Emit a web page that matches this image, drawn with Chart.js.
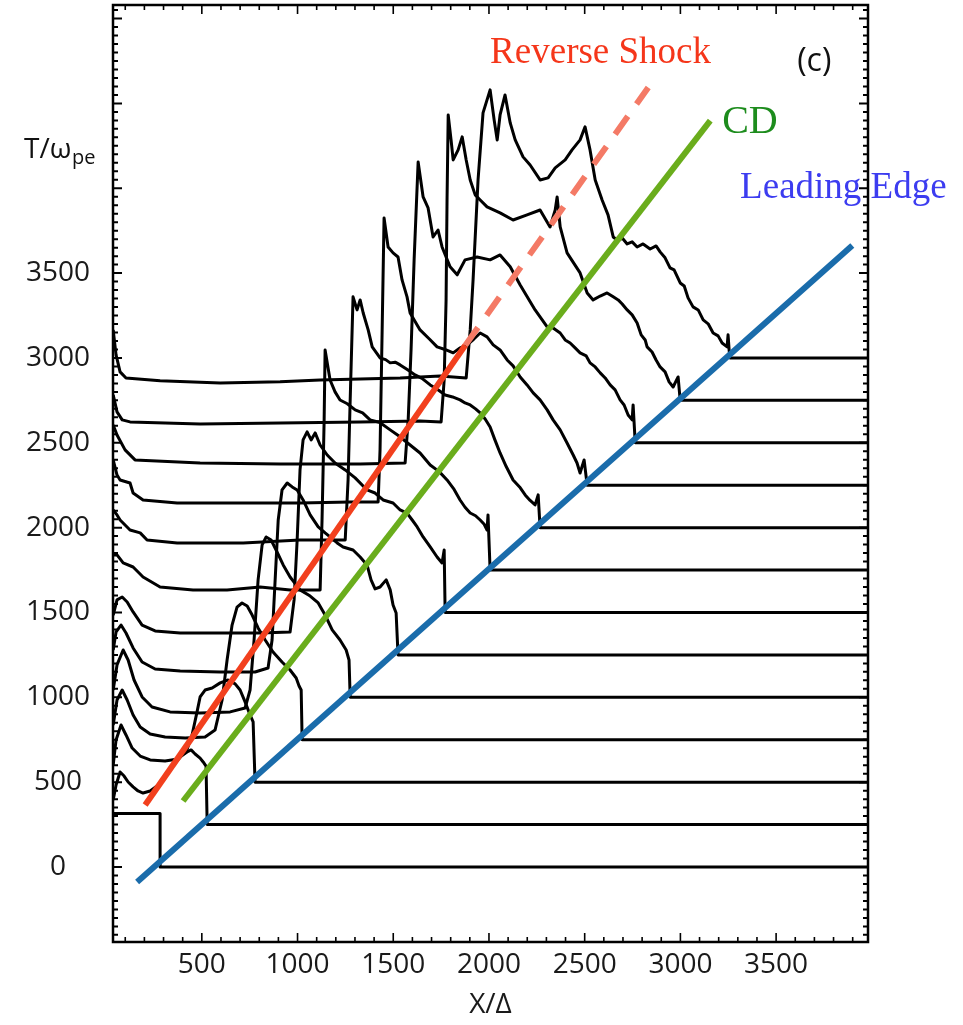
<!DOCTYPE html>
<html>
<head>
<meta charset="utf-8">
<script src="https://cdn.jsdelivr.net/npm/chart.js@4.4.1/dist/chart.umd.min.js"></script>
<style>
  body { margin: 0; background: #fff; }
  #wrap { width: 963px; height: 1025px; }
</style>
</head>
<body>
<div id="wrap"><canvas id="c" width="963" height="1025"></canvas></div>
<script>
// temps des profils (T/wpe)
const times = [0, 250, 500, 750, 1000, 1250, 1500, 1750, 2000, 2250, 2500, 2750, 3000];
const xTicks = [500, 1000, 1500, 2000, 2500, 3000, 3500];
const yTicks = [0, 500, 1000, 1500, 2000, 2500, 3000, 3500];

// profils : [X, T + densite]
const tr0 = [[37,315],[282,315],[282,0],[3980,0]];
const tr250 = [[37,395],[52,483],[73,560],[94,536],[115,501],[141,472],[167,448],[193,436],[230,448],[266,477],[298,519],[334,572],[366,619],[392,654],[423,678],[444,690],[465,666],[491,642],[507,619],[522,595],[528,250],[3980,250]];
const tr500 = [[37,601],[52,749],[78,837],[104,778],[136,701],[178,654],[230,631],[308,625],[376,637],[418,678],[449,778],[475,914],[491,1002],[517,1043],[554,1055],[596,1085],[637,1102],[674,1079],[700,1043],[726,973],[752,896],[768,855],[778,500],[3980,500]];
const tr750 = [[37,837],[57,984],[84,1043],[110,984],[141,896],[178,825],[230,784],[308,766],[413,760],[517,766],[569,807],[606,984],[632,1220],[658,1426],[684,1532],[710,1556],[737,1538],[763,1485],[794,1409],[831,1338],[872,1267],[919,1208],[961,1161],[993,1114],[1008,1067],[1019,1043],[1024,750],[3980,750]];
const tr1000 = [[37,1043],[57,1191],[89,1279],[115,1220],[146,1102],[188,1002],[240,943],[334,914],[491,908],[648,914],[726,937],[752,1043],[773,1338],[794,1692],[815,1898],[836,1945],[862,1927],[888,1868],[925,1780],[961,1709],[1013,1633],[1066,1597],[1108,1556],[1144,1485],[1181,1397],[1222,1338],[1254,1279],[1269,1220],[1275,1000],[3980,1000]];
const tr1250 = [[37,1279],[52,1385],[78,1426],[104,1379],[141,1291],[188,1208],[256,1167],[387,1155],[596,1149],[778,1149],[846,1173],[867,1338],[883,1692],[899,2045],[919,2222],[946,2263],[972,2240],[998,2222],[1029,2163],[1066,2075],[1108,2004],[1144,1969],[1170,1945],[1207,1910],[1238,1886],[1290,1868],[1327,1827],[1363,1780],[1384,1692],[1405,1639],[1431,1650],[1463,1692],[1484,1633],[1499,1544],[1515,1497],[1525,1250],[3980,1250]];
const tr1500 = [[37,1485],[57,1574],[84,1591],[110,1562],[141,1503],[188,1426],[256,1391],[387,1379],[596,1379],[805,1379],[961,1385],[982,1574],[998,1927],[1013,2340],[1029,2517],[1050,2564],[1071,2517],[1092,2558],[1118,2487],[1155,2428],[1196,2381],[1249,2340],[1301,2293],[1363,2222],[1405,2204],[1447,2163],[1499,2145],[1536,2104],[1572,2086],[1599,2045],[1625,2004],[1656,1945],[1693,1886],[1729,1827],[1755,1792],[1766,1868],[1771,1500],[3980,1500]];
const tr1750 = [[37,1839],[57,1839],[89,1792],[141,1768],[193,1709],[282,1650],[454,1633],[632,1633],[805,1650],[961,1633],[1118,1633],[1128,2045],[1139,2635],[1144,3047],[1170,2870],[1196,2800],[1222,2752],[1260,2730],[1301,2694],[1340,2676],[1379,2635],[1430,2620],[1484,2576],[1530,2540],[1588,2487],[1640,2440],[1693,2369],[1740,2330],[1781,2281],[1815,2230],[1849,2163],[1875,2120],[1902,2086],[1930,2070],[1954,2045],[1975,2020],[1990,1986],[1995,2075],[2006,1750],[3980,1750]];
const tr2000 = [[37,2104],[57,2075],[73,2045],[125,1986],[178,1969],[214,1927],[371,1910],[716,1910],[1013,1927],[1249,1927],[1264,2281],[1275,2752],[1290,3360],[1311,3283],[1327,3342],[1343,3265],[1369,3165],[1390,3065],[1431,3000],[1460,2990],[1484,2971],[1510,2975],[1536,2959],[1575,2930],[1614,2900],[1650,2880],[1693,2841],[1730,2815],[1771,2782],[1810,2770],[1849,2753],[1875,2735],[1902,2723],[1930,2700],[1954,2676],[1980,2640],[2006,2593],[2030,2520],[2058,2440],[2090,2360],[2126,2281],[2160,2240],[2189,2193],[2215,2160],[2241,2134],[2257,2193],[2267,2000],[3980,2000]];
const tr2250 = [[37,2399],[57,2310],[73,2281],[125,2263],[141,2204],[193,2163],[371,2145],[716,2145],[1013,2145],[1275,2151],[1421,2151],[1431,2458],[1442,3165],[1452,3825],[1473,3654],[1499,3619],[1525,3595],[1546,3460],[1572,3360],[1588,3265],[1640,3165],[1690,3110],[1729,3065],[1770,3050],[1813,3030],[1850,3060],[1886,3077],[1920,3110],[1954,3147],[1990,3124],[2022,3077],[2058,3047],[2095,2988],[2126,2953],[2163,2888],[2199,2841],[2231,2794],[2267,2753],[2304,2694],[2335,2635],[2372,2576],[2408,2499],[2440,2428],[2460,2381],[2476,2322],[2497,2399],[2513,2250],[3980,2250]];
const tr2500 = [[37,2605],[57,2546],[99,2458],[151,2399],[491,2381],[909,2375],[1327,2375],[1562,2381],[1578,2635],[1593,3047],[1609,3578],[1630,4155],[1656,3949],[1682,3884],[1708,3713],[1734,3754],[1755,3654],[1797,3537],[1834,3490],[1875,3578],[1938,3595],[2006,3578],[2058,3607],[2111,3537],[2163,3430],[2241,3283],[2304,3183],[2335,3177],[2372,3147],[2398,3106],[2424,3088],[2450,3059],[2476,3030],[2508,3012],[2528,2971],[2555,2947],[2581,2912],[2607,2882],[2633,2841],[2659,2812],[2685,2753],[2706,2723],[2727,2664],[2748,2635],[2753,2723],[2764,2500],[3980,2500]];
const tr2750 = [[37,2782],[57,2682],[84,2635],[125,2623],[491,2611],[909,2617],[1327,2623],[1640,2629],[1750,2623],[1766,2870],[1776,3342],[1781,3931],[1787,4432],[1802,4285],[1813,4167],[1839,4226],[1860,4303],[1881,4167],[1902,4049],[1928,3961],[1954,3931],[1990,3890],[2058,3855],[2126,3813],[2199,3843],[2267,3872],[2319,3772],[2346,3872],[2356,3949],[2372,3772],[2408,3619],[2476,3501],[2513,3383],[2544,3342],[2581,3365],[2617,3383],[2649,3360],[2675,3342],[2696,3318],[2722,3283],[2748,3254],[2774,3206],[2795,3136],[2816,3106],[2826,3065],[2852,3035],[2873,2988],[2894,2947],[2920,2918],[2941,2859],[2962,2829],[2988,2888],[2999,2750],[3980,2750]];
const tr3000 = [[37,3165],[52,3018],[73,2918],[104,2882],[282,2865],[596,2853],[909,2859],[1118,2870],[1327,2876],[1536,2882],[1745,2894],[1881,2882],[1902,3165],[1917,3460],[1943,4049],[1969,4444],[2006,4580],[2027,4403],[2043,4285],[2058,4432],[2084,4550],[2111,4385],[2137,4285],[2178,4185],[2215,4137],[2267,4049],[2309,4061],[2346,4120],[2398,4167],[2434,4226],[2476,4285],[2502,4362],[2528,4226],[2555,4049],[2591,3931],[2622,3843],[2649,3713],[2675,3690],[2696,3707],[2722,3672],[2748,3684],[2774,3654],[2805,3672],[2842,3642],[2873,3660],[2894,3625],[2920,3590],[2946,3531],[2967,3519],[2999,3442],[3020,3424],[3040,3354],[3066,3301],[3093,3283],[3119,3224],[3145,3201],[3171,3147],[3197,3130],[3218,3088],[3244,3065],[3249,3136],[3255,3040],[3260,3000],[3980,3000]];
const traces = [tr0, tr250, tr500, tr750, tr1000, tr1250, tr1500, tr1750, tr2000, tr2250, tr2500, tr2750, tr3000];

// droites : choc retour, discontinuite de contact, front
const shockX = [204, 1876], shockY = [365, 3074];
const shockDashX = [1876, 2832], shockDashY = [3074, 4594];
const cdX = [402, 3156], cdY = [389, 4399];
const edgeX = [162, 3898], edgeY = [-88, 3663];

function pts(xs, ys) { return xs.map((x, i) => ({ x: x, y: ys[i] })); }

const datasets = [
    { data: pts(shockX, shockY), borderColor: '#f2401e', borderWidth: 6, order: 0 },
    { data: pts(shockDashX, shockDashY), borderColor: '#f47a66', borderWidth: 6, borderDash: [22, 15], order: 0 },
    { data: pts(cdX, cdY), borderColor: '#6aad1c', borderWidth: 6, order: 0 },
    { data: pts(edgeX, edgeY), borderColor: '#1a6cab', borderWidth: 6, order: 0 }
];
traces.forEach((tr, i) => {
    datasets.push({
        label: 'T=' + times[i],
        data: tr.map(p => ({ x: p[0], y: p[1] })),
        borderColor: '#000', borderWidth: 3, order: 1
    });
});

// cadre, graduations interieures et textes
const decor = {
    id: 'decor',
    afterDraw(chart) {
        const ctx = chart.ctx, a = chart.chartArea;
        const sx = chart.scales.x, sy = chart.scales.y;
        ctx.save();
        ctx.strokeStyle = '#000';
        ctx.lineWidth = 1.6;
        for (let v = 100; v < 3980; v += 100) {
            const px = sx.getPixelForValue(v), len = v % 500 === 0 ? 9 : 5;
            ctx.beginPath();
            ctx.moveTo(px, a.bottom); ctx.lineTo(px, a.bottom - len);
            ctx.moveTo(px, a.top); ctx.lineTo(px, a.top + len);
            ctx.stroke();
        }
        ctx.lineWidth = 2;
        for (let v = -400; v < 5080; v += 50) {
            const py = sy.getPixelForValue(v), len = v % 500 === 0 ? 9 : 5;
            ctx.beginPath();
            ctx.moveTo(a.left, py); ctx.lineTo(a.left + len, py);
            ctx.moveTo(a.right, py); ctx.lineTo(a.right - len, py);
            ctx.stroke();
        }
        ctx.lineWidth = 2.5;
        ctx.strokeRect(a.left, a.top, a.right - a.left, a.bottom - a.top);

        ctx.textBaseline = 'alphabetic';
        ctx.font = '37px "Liberation Serif", serif';
        ctx.fillStyle = '#f5361a';
        ctx.fillText('Reverse Shock', sx.getPixelForValue(2006), sy.getPixelForValue(4739));
        ctx.fillStyle = '#1d8c1d';
        ctx.font = '40px "Liberation Serif", serif';
        ctx.fillText('CD', sx.getPixelForValue(3218), sy.getPixelForValue(4326));
        ctx.fillStyle = '#3c3cf0';
        ctx.font = '37px "Liberation Serif", serif';
        ctx.fillText('Leading Edge', sx.getPixelForValue(3312), sy.getPixelForValue(3943));
        ctx.fillStyle = '#111';
        ctx.font = '32px "Open Sans", sans-serif';
        ctx.fillText('(c)', sx.getPixelForValue(3610), sy.getPixelForValue(4692));

        // titre axe vertical
        ctx.font = '28px "Open Sans", sans-serif';
        ctx.fillText('T/\u03c9', 24, 158);
        ctx.font = '20px "Open Sans", sans-serif';
        ctx.fillText('pe', 72, 164);
        ctx.restore();
    }
};

new Chart(document.getElementById('c'), {
    type: 'line',
    data: { datasets: datasets },
    options: {
        responsive: false,
        animation: false,
        events: [],
        layout: { autoPadding: false, padding: { top: 5, right: 95, left: 0, bottom: 0 } },
        elements: { point: { radius: 0 }, line: { tension: 0, borderJoinStyle: 'round' } },
        plugins: { legend: { display: false }, tooltip: { enabled: false } },
        scales: {
            x: {
                type: 'linear', min: 36, max: 3980,
                afterBuildTicks: s => { s.ticks = xTicks.map(v => ({ value: v })); },
                afterFit: s => { s.height = 83; s.paddingLeft = 0; s.paddingRight = 0; },
                grid: { display: false, drawTicks: false },
                border: { display: false },
                ticks: { font: { family: 'Open Sans', size: 28 }, color: '#1a1a1a', padding: 6, maxRotation: 0, callback: v => String(v) },
                title: { display: true, text: 'X/\u0394', font: { family: 'Open Sans', size: 28 }, color: '#1a1a1a', padding: { top: 0, bottom: 3 } }
            },
            y: {
                type: 'linear', min: -442, max: 5080,
                afterBuildTicks: s => { s.ticks = yTicks.map(v => ({ value: v })); },
                afterFit: s => { s.width = 113; s.paddingTop = 0; s.paddingBottom = 0; },
                grid: { display: false, drawTicks: false },
                border: { display: false },
                ticks: { font: { family: 'Open Sans', size: 28 }, color: '#1a1a1a', padding: 23, crossAlign: 'center', callback: v => String(v) }
            }
        }
    },
    plugins: [decor]
});
</script>
</body>
</html>
